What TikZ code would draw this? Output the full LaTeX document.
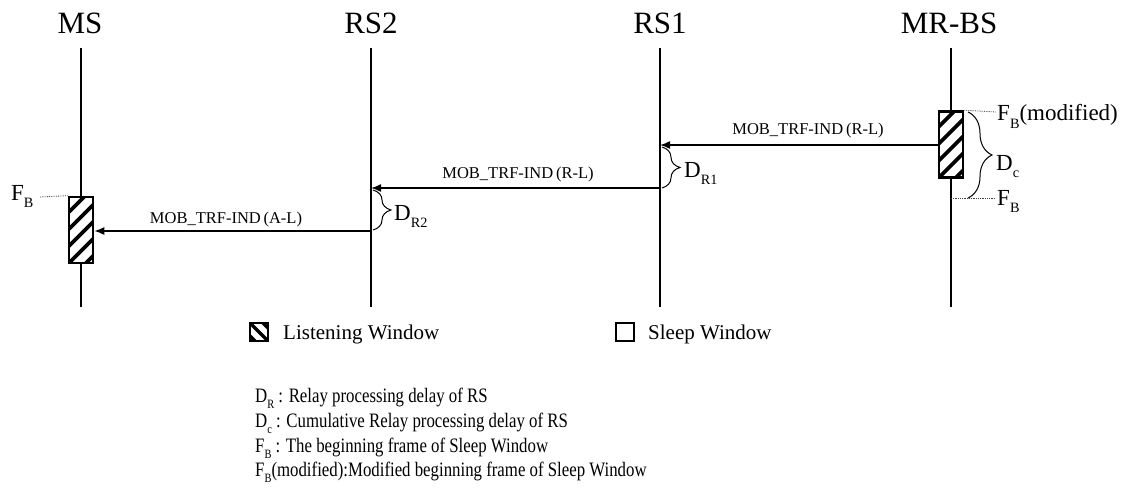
\documentclass[tikz,border=0pt]{standalone}
\usepackage{fontspec}
\usepackage{graphicx}
\setmainfont{Liberation Serif}
\usetikzlibrary{arrows.meta,decorations.pathreplacing}
\newcommand\lsub[1]{\raisebox{-0.32em}{\scalebox{0.62}{#1}}}
\newcommand\narrow[1]{\scalebox{0.82}[1]{#1}}
\begin{document}
\begin{tikzpicture}[x=1pt,y=-1pt,
  hdr/.style={font=\fontsize{31}{35}\selectfont, inner sep=0pt},
  life/.style={line width=1.3pt},
  msg/.style={line width=1.5pt,-{Latex[length=10pt,width=8pt]}},
  mlab/.style={font=\fontsize{16.5}{19}\selectfont, inner sep=0pt, anchor=base},
  lab/.style={font=\fontsize{23}{26}\selectfont, inner sep=0pt, anchor=base west},
  leg/.style={font=\fontsize{21}{24}\selectfont, inner sep=0pt, anchor=base west},
  defn/.style={font=\fontsize{20.5}{23}\selectfont, inner sep=0pt, anchor=base west},
  dots/.style={densely dotted, line width=0.8pt, black!75},
  brc/.style={decorate, decoration={brace, amplitude=#1}, line width=1pt},
  brc/.default=18pt,
  win/.style={draw, line width=2.6pt, fill=white, minimum width=24pt, minimum height=66pt, inner sep=0pt,
    path picture={\foreach \k in {-5,...,6}
      \draw[line width=3.6pt] ([shift={(-40pt,\k*17pt-40pt)}]path picture bounding box.south west) -- ++(120pt,120pt);}},
  licon/.style={draw, line width=2.2pt, fill=white, minimum width=18pt, minimum height=18pt, inner sep=0pt,
    path picture={\foreach \k in {-2,...,2}
      \draw[line width=3.2pt] ([shift={(-40pt,\k*13pt+58pt)}]path picture bounding box.south west) -- ++(120pt,-120pt);}},
  sicon/.style={draw, line width=1.6pt, fill=white, minimum width=18pt, minimum height=18pt, inner sep=0pt},
]
\useasboundingbox (0,0) rectangle (1131,500);

% headers
\node[hdr] (hms)   at (80,23)  {MS};
\node[hdr] (hrs2)  at (371,23) {RS2};
\node[hdr] (hrs1)  at (660,23) {RS1};
\node[hdr] (hbs)   at (949,23) {MR-BS};

% lifelines
\coordinate (msT) at (81,48);   \coordinate (msB) at (81,307);
\coordinate (r2T) at (371,48);  \coordinate (r2B) at (371,307);
\coordinate (r1T) at (660,48);  \coordinate (r1B) at (660,307);
\coordinate (bsT) at (951,48);  \coordinate (bsB) at (951,307);
\draw[life] (msT) -- (msB);
\draw[life] (r2T) -- (r2B);
\draw[life] (r1T) -- (r1B);
\draw[life] (bsT) -- (bsB);

% listening windows
\node[win] (wbs) at (951,144.5) {};
\node[win] (wms) at (81,230) {};

% messages
\coordinate (r1a) at (660,145);
\coordinate (r1b) at (660,188);
\coordinate (r2a) at (371,188);
\coordinate (r2b) at (371,231);
\coordinate (msa) at (81,231);
\draw[msg] (wbs.west |- r1a) -- (r1a);
\draw[msg] (r1b) -- (r2a);
\draw[msg] (r2b) -- (wms.east |- msa);
\node[mlab] (m1) at (808,135) {MOB\_TRF-IND\,(R-L)};
\node[mlab] (m2) at (518,178) {MOB\_TRF-IND\,(R-L)};
\node[mlab] (m3) at (226,223) {MOB\_TRF-IND\,(A-L)};

% braces
\coordinate (b1s) at (662,147); \coordinate (b1e) at (662,188);
\draw[brc] (b1s) -- (b1e);
\node[lab] (dr1) at (684,177) {D\lsub{R1}};
\coordinate (b2s) at (373,190); \coordinate (b2e) at (373,230);
\draw[brc] (b2s) -- (b2e);
\node[lab] (dr2) at (394,220) {D\lsub{R2}};

% MR-BS annotations
\coordinate (fbm) at (996,112);
\coordinate (fbb) at (996,198);
\coordinate (bsb) at (951,198);
\draw[dots] (wbs.north east) -- (fbm);
\draw[dots] (bsb) -- (fbb);
\coordinate (b3s) at (968,112); \coordinate (b3e) at (968,198);
\draw[brc=24pt] (b3s) -- (b3e);
\node[lab] (lfbm) at (997,121) {F\lsub{B}(modified)};
\node[lab] (ldc)  at (996,170) {D\lsub{c}};
\node[lab] (lfbb) at (997,205) {F\lsub{B}};

% MS annotation
\coordinate (fms) at (40,197);
\draw[dots] (fms) -- (wms.north west);
\node[lab] (lfms) at (11,200) {F\lsub{B}};

% legend
\node[licon] (il) at (259,332) {};
\node[leg] (tl) at (283,339) {Listening Window};
\node[sicon] (is) at (625,332) {};
\node[leg] (ts) at (648,339) {Sleep Window};

\node[defn] (d1) at (255,402) {\narrow{D\lsub{R} : Relay processing delay of RS}};
\node[defn] (d2) at (255,427) {\narrow{D\lsub{c} : Cumulative Relay processing delay of RS}};
\node[defn] (d3) at (255,452) {\narrow{F\lsub{B} : The beginning frame of Sleep Window}};
\node[defn] (d4) at (255,476) {\narrow{F\lsub{B}(modified):Modified beginning frame of Sleep Window}};
\end{tikzpicture}
\end{document}
